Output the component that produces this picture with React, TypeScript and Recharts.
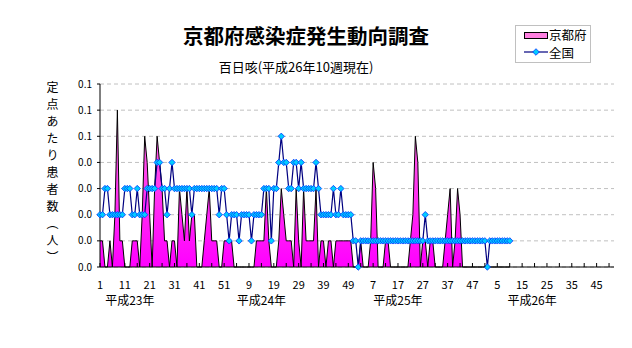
import { ComposedChart, Area, Line, XAxis, YAxis, CartesianGrid } from "recharts";

const FONT = '"Noto Sans CJK JP", "Noto Sans", sans-serif';

// weeks per year on the axis: 平成23年 .. 平成26年
const yearLengths = [52, 52, 52, 52];
const yearNames = ["平成23年", "平成24年", "平成25年", "平成26年"];
// category index under which each year name is centred
const yearLabelAt = [12, 65, 120, 174];

const yTicks = [0, 0.01, 0.02, 0.03, 0.04, 0.05, 0.06, 0.07];

// 京都府 (per sentinel), from 平成23年 week 1 to 平成26年 week 10
const kyoto = [
  0.01, 0.01, 0, 0, 0.01, 0, 0.02, 0.06, 0.01, 0.01,
  0, 0, 0, 0.01, 0.01, 0.01, 0, 0.02, 0.05, 0.04,
  0.02, 0, 0.03, 0.05, 0.04, 0.03, 0.01, 0.01, 0, 0.01,
  0.01, 0, 0.03, 0.02, 0.01, 0.03, 0.01, 0.02, 0.02, 0,
  0, 0, 0.01, 0.02, 0.03, 0.01, 0.01, 0.01, 0, 0,
  0.01, 0.01, 0.01, 0.01, 0, 0, 0, 0, 0, 0,
  0, 0, 0, 0.01, 0.01, 0.01, 0.01, 0.03, 0.01, 0,
  0, 0, 0.01, 0.03, 0.02, 0.01, 0.01, 0.01, 0, 0.03,
  0.01, 0, 0.03, 0.01, 0.01, 0.01, 0.01, 0.03, 0, 0.01,
  0.01, 0, 0.01, 0.01, 0, 0.01, 0.01, 0.01, 0.01, 0.01,
  0.01, 0.01, 0, 0, 0, 0.01, 0, 0, 0, 0.01,
  0.04, 0.03, 0, 0, 0, 0.01, 0.01, 0, 0, 0,
  0, 0, 0, 0, 0, 0.01, 0.02, 0.05, 0.04, 0,
  0.01, 0.01, 0, 0.01, 0.01, 0, 0, 0, 0, 0.01,
  0.02, 0.03, 0, 0.01, 0.03, 0.02, 0, 0, 0, 0,
  0, 0, 0, 0, 0, 0, 0, 0, 0, 0,
  0, 0, 0, 0, 0, 0,
];

// 全国 (per sentinel)
const national = [
  0.02, 0.02, 0.03, 0.03, 0.02, 0.02, 0.02, 0.02, 0.02, 0.02,
  0.03, 0.03, 0.03, 0.02, 0.02, 0.03, 0.02, 0.02, 0.02, 0.03,
  0.03, 0.03, 0.03, 0.04, 0.04, 0.03, 0.03, 0.02, 0.03, 0.04,
  0.03, 0.03, 0.03, 0.03, 0.03, 0.03, 0.03, 0.02, 0.03, 0.03,
  0.03, 0.03, 0.03, 0.03, 0.03, 0.03, 0.03, 0.03, 0.02, 0.03,
  0.03, 0.02, 0.01, 0.02, 0.02, 0.02, 0.01, 0.02, 0.02, 0.02,
  0.02, 0.01, 0.02, 0.02, 0.02, 0.02, 0.03, 0.03, 0.03, 0.01,
  0.03, 0.03, 0.04, 0.05, 0.04, 0.04, 0.03, 0.03, 0.04, 0.04,
  0.03, 0.04, 0.03, 0.03, 0.03, 0.03, 0.03, 0.04, 0.03, 0.02,
  0.02, 0.02, 0.02, 0.02, 0.03, 0.02, 0.02, 0.03, 0.02, 0.02,
  0.02, 0.02, 0.01, 0.01, 0, 0.01, 0.01, 0.01, 0.01, 0.01,
  0.01, 0.01, 0.01, 0.01, 0.01, 0.01, 0.01, 0.01, 0.01, 0.01,
  0.01, 0.01, 0.01, 0.01, 0.01, 0.01, 0.01, 0.01, 0.01, 0.01,
  0.01, 0.02, 0.01, 0.01, 0.01, 0.01, 0.01, 0.01, 0.01, 0.01,
  0.01, 0.01, 0.01, 0.01, 0.01, 0.01, 0.01, 0.01, 0.01, 0.01,
  0.01, 0.01, 0.01, 0.01, 0.01, 0.01, 0, 0.01, 0.01, 0.01,
  0.01, 0.01, 0.01, 0.01, 0.01, 0.01,
];

const weekNumbers: number[] = [];
yearLengths.forEach((n) => {
  for (let w = 1; w <= n; w++) weekNumbers.push(w);
});

const rows = weekNumbers.map((w, i) => ({
  idx: i,
  week: w,
  kyoto: i < kyoto.length ? kyoto[i] : null,
  national: i < national.length ? national[i] : null,
}));

const WeekTick = (props: any) => {
  const { x, y, payload } = props;
  const i = Number(payload.value);
  const yearPos = yearLabelAt.indexOf(i);
  return (
    <g>
      {i % 5 === 0 && <line x1={x} x2={x} y1={y} y2={y - 4} stroke="#000" />}
      {i % 10 === 0 && (
        <text x={x} y={y + 22} textAnchor="middle" fontSize={11} fill="#000" fontFamily={FONT}>
          {weekNumbers[i]}
        </text>
      )}
      {yearPos >= 0 && (
        <text x={x} y={y + 38} textAnchor="middle" fontSize={12} fill="#000" fontFamily={FONT}>
          {yearNames[yearPos]}
        </text>
      )}
    </g>
  );
};

const Diamond = (props: any) => {
  const { cx, cy, value, index } = props;
  if (cx == null || cy == null || value == null) return <g key={index} />;
  const r = 3.2;
  return (
    <path
      key={index}
      d={`M${cx},${cy - r}L${cx + r},${cy}L${cx},${cy + r}L${cx - r},${cy}Z`}
      fill="#00ccff"
      stroke="#0033ff"
      strokeWidth={0.8}
    />
  );
};

export default function App() {
  return (
    <div
      style={{
        position: "absolute",
        left: 0,
        top: 0,
        width: 632,
        height: 348,
        background: "#fff",
        fontFamily: FONT,
        color: "#000",
      }}
    >
      <ComposedChart
        width={632}
        height={348}
        data={rows}
        margin={{ top: 84, right: 18, left: 60, bottom: 31 }}
      >
        <defs>
          <linearGradient id="kyotoFill" x1="0" y1="0" x2="0" y2="1">
            <stop offset="0%" stopColor="#ff6ee0" />
            <stop offset="100%" stopColor="#ff00ff" />
          </linearGradient>
        </defs>
        <CartesianGrid vertical={false} stroke="#c0c0c0" strokeDasharray="4 3" />
        <XAxis
          dataKey="idx"
          type="category"
          scale="point"
          interval={0}
          height={50}
          tickSize={0}
          tickMargin={0}
          tickLine={false}
          axisLine={{ stroke: "#000" }}
          tick={<WeekTick />}
        />
        <YAxis
          width={40}
          domain={[0, 0.07]}
          ticks={yTicks}
          tickFormatter={(v: number) => (Math.round(v * 10) / 10).toFixed(1)}
          tick={{ fontSize: 10, fill: "#000", fontFamily: FONT }}
          tickSize={3}
          tickMargin={5}
          tickLine={{ stroke: "#000" }}
          axisLine={{ stroke: "#000" }}
        />
        <Area
          type="linear"
          dataKey="kyoto"
          stroke="#000"
          strokeWidth={1}
          fill="url(#kyotoFill)"
          fillOpacity={1}
          isAnimationActive={false}
          dot={false}
          activeDot={false}
        />
        <Line
          type="linear"
          dataKey="national"
          stroke="#000080"
          strokeWidth={1.2}
          dot={<Diamond />}
          activeDot={false}
          isAnimationActive={false}
        />
      </ComposedChart>

      <div
        style={{
          position: "absolute",
          left: 0,
          top: 25,
          width: 612,
          textAlign: "center",
          fontSize: 20.5,
          lineHeight: "21px",
          fontWeight: 700,
        }}
      >
        京都府感染症発生動向調査
      </div>
      <div
        style={{
          position: "absolute",
          left: 0,
          top: 60,
          width: 592,
          textAlign: "center",
          fontSize: 13,
          lineHeight: "14px",
        }}
      >
        百日咳(平成26年10週現在)
      </div>

      <div
        style={{
          position: "absolute",
          left: 46,
          top: 81,
          fontSize: 12,
          lineHeight: "12px",
          writingMode: "vertical-rl",
          letterSpacing: 5,
        }}
      >
        定点あたり患者数（人）
      </div>

      <div
        style={{
          position: "absolute",
          left: 515,
          top: 25,
          width: 74,
          height: 36,
          border: "1px solid #c0c0c0",
          background: "#fff",
          fontSize: 12.5,
        }}
      >
        <div style={{ position: "absolute", left: 8, top: 6, width: 22, height: 5, background: "#ff80e0", border: "1px solid #000" }} />
        <div style={{ position: "absolute", left: 33, top: 2, lineHeight: "13px" }}>京都府</div>
        <svg style={{ position: "absolute", left: 8, top: 21 }} width={24} height={10}>
          <line x1={0} x2={24} y1={5} y2={5} stroke="#000080" strokeWidth={1.2} />
          <path d="M12,1.7L15.3,5L12,8.3L8.7,5Z" fill="#00ccff" stroke="#0033ff" strokeWidth={0.8} />
        </svg>
        <div style={{ position: "absolute", left: 33, top: 20, lineHeight: "13px" }}>全国</div>
      </div>
    </div>
  );
}
